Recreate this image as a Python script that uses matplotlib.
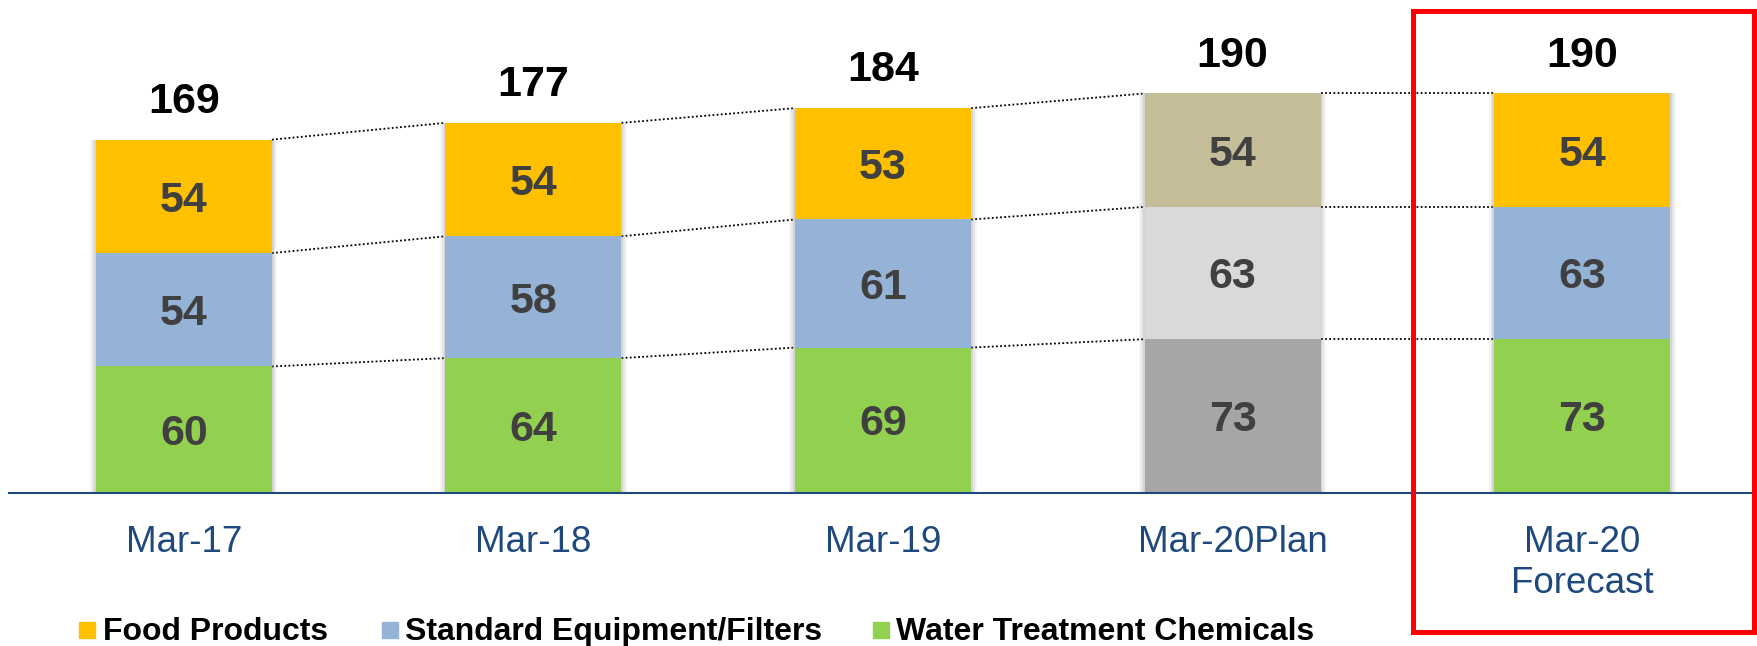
import matplotlib
matplotlib.use("Agg")
import matplotlib.pyplot as plt
from matplotlib.patches import Rectangle

plt.rcParams['font.family'] = ['Liberation Sans', 'DejaVu Sans']

categories = ["Mar-17", "Mar-18", "Mar-19", "Mar-20Plan", "Mar-20\nForecast"]
water = [60, 64, 69, 73, 73]
equipment = [54, 58, 61, 63, 63]
food = [54, 54, 53, 54, 54]
totals = [169, 177, 184, 190, 190]
series_names = ["Food Products", "Standard Equipment/Filters", "Water Treatment Chemicals"]

C_FOOD, C_EQ, C_WATER = "#FFC000", "#95B3D7", "#92D050"
PLAN = {"food": "#C4BD97", "eq": "#D9D9D9", "water": "#A6A6A6"}
LBL = "#404040"
AXC = "#1F497D"

W, H = 1757, 646
fig = plt.figure(figsize=(W / 100, H / 100), dpi=100)
ax = fig.add_axes([9 / W, (H - 492.5) / H, (W - 9) / W, 492.5 / H])
ax.set_xlim(-0.5, 4.5)
ax.set_ylim(0, 234.5)

bw = 0.504
x = list(range(len(categories)))
plan_idx = 3
cw = [PLAN["water"] if i == plan_idx else C_WATER for i in x]
ce = [PLAN["eq"] if i == plan_idx else C_EQ for i in x]
cf = [PLAN["food"] if i == plan_idx else C_FOOD for i in x]
b1 = [w for w in water]
b2 = [w + e for w, e in zip(water, equipment)]
b3 = [w + e + f for w, e, f in zip(water, equipment, food)]

# soft shadow behind bars (sides only)
for k, a in ((0.016, 0.08), (0.010, 0.12), (0.005, 0.16)):
    ax.bar(x, b3, bw + 2 * k, color="#7F7F7F", alpha=a, lw=0, zorder=2.5)

ax.bar(x, water, bw, color=cw, zorder=3)
ax.bar(x, equipment, bw, bottom=b1, color=ce, zorder=3)
ax.bar(x, food, bw, bottom=b2, color=cf, zorder=3)

fs_seg = 31
for i in x:
    for val, bot in ((water[i], 0), (equipment[i], b1[i]), (food[i], b2[i])):
        ax.annotate(str(val), (i, bot + val / 2), xytext=(0, -0.358 * fs_seg),
                    textcoords="offset points", ha="center", va="baseline",
                    fontsize=fs_seg, fontweight="bold", color=LBL, zorder=5)
    ax.annotate(str(totals[i]), (i, b3[i]), xytext=(0, 19.4), textcoords="offset points",
                ha="center", va="baseline", fontsize=fs_seg, fontweight="bold",
                color="black", zorder=5)

# dotted connectors
for levels in (b1, b2, b3):
    for i in range(len(x) - 1):
        ax.plot([i + bw / 2, i + 1 - bw / 2], [levels[i], levels[i + 1]],
                linestyle=(0, (1, 1.3)), color="black", lw=1.3, zorder=2)

for s in ("top", "right", "left"):
    ax.spines[s].set_visible(False)
ax.spines["bottom"].set_color(AXC)
ax.spines["bottom"].set_linewidth(1.5)
ax.spines["bottom"].set_zorder(4)
ax.set_yticks([])
ax.set_xticks(x)
ax.set_xticklabels(categories, fontsize=26.5, color=AXC, linespacing=1.2)
ax.tick_params(axis="x", length=0, pad=23.5)

# red highlight box
fig.patches.append(Rectangle((1413 / W, (H - 632) / H), (1754 - 1413) / W, (632 - 11) / H,
                             transform=fig.transFigure, fill=False, edgecolor="#FF0000",
                             lw=3.6, zorder=10))

# legend
leg = [(79, 103, C_FOOD), (382, 405, C_EQ), (873, 896, C_WATER)]
for (mx, tx, col), name in zip(leg, series_names):
    fig.patches.append(Rectangle((mx / W, (H - 638) / H), 16 / W, 16 / H,
                                 transform=fig.transFigure, color=col))
    fig.text(tx / W, (H - 640) / H, name, fontsize=23, fontweight="bold",
             color="black", ha="left", va="baseline")

fig.savefig("out.png", dpi=100)
